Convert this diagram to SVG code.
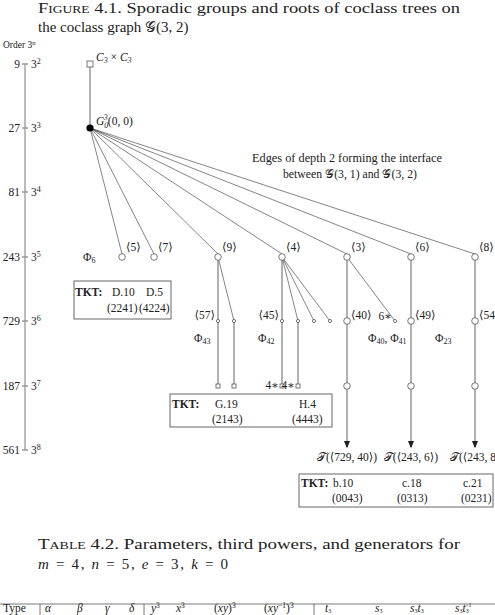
<svg xmlns="http://www.w3.org/2000/svg" width="495" height="615" viewBox="0 0 495 615">
<style>
text{font-family:"Liberation Serif","DejaVu Serif",serif;fill:#222}
.t{font-size:15px}
.s{font-size:11.5px}
.m{font-size:11.5px;font-style:italic}
.b{font-weight:bold}
.axis{stroke:#999;stroke-width:1.3;fill:none}
.v{stroke:#888;stroke-width:1.3;fill:none}
.e{stroke:#333;stroke-width:0.6;fill:none}
.c{fill:#fff;stroke:#555;stroke-width:0.8}
.box{fill:none;stroke:#666;stroke-width:1}
</style>
<defs>
<marker id="ar" viewBox="0 0 6 6" refX="5" refY="3" markerWidth="6" markerHeight="6" orient="auto"><path d="M0,0.5 L6,3 L0,5.5 Z" fill="#222"/></marker>
</defs>
<text class="t" x="38" y="13" textLength="422" lengthAdjust="spacingAndGlyphs">F<tspan font-size="11">IGURE</tspan> 4.1. Sporadic groups and roots of coclass trees on</text>
<text class="t" x="38" y="32">the coclass graph 𝒢(3, 2)</text>

<g id="axis">
<text x="3" y="48" font-size="9.5">Order 3<tspan font-size="6.5" dy="-3.5">n</tspan></text>
<path class="axis" d="M25,64 V450 M22,64 H28 M22,128 H28 M22,192 H28 M22,257 H28 M22,321 H28 M22,386 H28 M22,450 H28"/>
<g class="s" text-anchor="end">
<text x="20" y="68">9</text><text x="20" y="132">27</text><text x="20" y="196">81</text><text x="20" y="261">243</text><text x="20" y="325">729</text><text x="20" y="390">187</text><text x="20" y="454">561</text>
</g>
<g class="s">
<text x="31" y="68">3<tspan font-size="8" dy="-4.5">2</tspan></text>
<text x="31" y="132">3<tspan font-size="8" dy="-4.5">3</tspan></text>
<text x="31" y="196">3<tspan font-size="8" dy="-4.5">4</tspan></text>
<text x="31" y="261">3<tspan font-size="8" dy="-4.5">5</tspan></text>
<text x="31" y="325">3<tspan font-size="8" dy="-4.5">6</tspan></text>
<text x="31" y="390">3<tspan font-size="8" dy="-4.5">7</tspan></text>
<text x="31" y="454">3<tspan font-size="8" dy="-4.5">8</tspan></text>
</g>
</g>

<g id="connectors">
<path class="v" d="M90,67 V128"/>
<path class="e" d="M90,128 L122,254 M90,128 L154,254 M90,128 L218,254 M90,128 L282,254 M90,128 L347,254 M90,128 L411,254 M90,128 L475,254"/>
<path class="v" d="M218,260 V384 M234,321 V384 M282,260 V384 M298,321 V384"/>
<path class="e" d="M218,257 L234,321 M282,257 L298,321 M282,257 L314,321 M282,257 L330,321 M347,257 L395,321"/>
<path class="v" d="M347,260 V447" marker-end="url(#ar)"/>
<path class="v" d="M411,260 V447" marker-end="url(#ar)"/>
<path class="v" d="M475,260 V447" marker-end="url(#ar)"/>
</g>

<g id="n-c3c3"><rect x="87" y="61" width="6" height="6" class="c"/><text class="m" x="96" y="61">C<tspan font-size="8" dy="2">3</tspan><tspan dy="-2" font-style="normal"> × </tspan>C<tspan font-size="8" dy="2">3</tspan></text></g>
<g id="n-root"><circle cx="90" cy="128" r="3.6" fill="#000"/><text class="m" x="96" y="125">G<tspan font-size="8" dy="3">0</tspan><tspan font-size="8" dx="-4.5" dy="-8">3</tspan><tspan font-style="normal" dy="5">(0, 0)</tspan></text></g>

<text id="interface" class="s" text-anchor="middle"><tspan x="347" y="162" textLength="190" lengthAdjust="spacingAndGlyphs">Edges of depth 2 forming the interface</tspan><tspan x="350" y="178" textLength="134" lengthAdjust="spacingAndGlyphs">between 𝒢(3, 1) and 𝒢(3, 2)</tspan></text>

<g id="n5"><circle cx="122" cy="257" r="3.3" class="c"/><text class="s" x="126" y="251">⟨5⟩</text></g>
<g id="n7"><circle cx="154" cy="257" r="3.3" class="c"/><text class="s" x="158" y="251">⟨7⟩</text></g>
<g id="n9"><circle cx="218" cy="257" r="3.3" class="c"/><text class="s" x="222" y="251">⟨9⟩</text></g>
<g id="n4"><circle cx="282" cy="257" r="3.3" class="c"/><text class="s" x="286" y="251">⟨4⟩</text></g>
<g id="n3"><circle cx="347" cy="257" r="3.3" class="c"/><text class="s" x="351" y="251">⟨3⟩</text></g>
<g id="n6"><circle cx="411" cy="257" r="3.3" class="c"/><text class="s" x="415" y="251">⟨6⟩</text></g>
<g id="n8"><circle cx="475" cy="257" r="3.3" class="c"/><text class="s" x="479" y="251">⟨8⟩</text></g>
<text id="phi6" class="s" x="83" y="261">Φ<tspan font-size="8" dy="2">6</tspan></text>

<g id="tkt1"><rect class="box" x="74" y="281" width="97" height="38"/>
<text class="s b" x="75" y="296">TKT:</text><text class="s" x="112" y="296">D.10</text><text class="s" x="146" y="296">D.5</text>
<text class="s" x="107" y="312">(2241)</text><text class="s" x="139" y="312">(4224)</text></g>

<g id="n9-kids">
<circle cx="218" cy="321" r="1.6" class="c"/><circle cx="234" cy="321" r="1.6" class="c"/>
<rect x="216" y="384" width="4" height="4" class="c"/><rect x="232" y="384" width="4" height="4" class="c"/>
<text class="s" x="215" y="319" text-anchor="end">⟨57⟩</text>
<text class="s" x="194" y="342">Φ<tspan font-size="8" dy="2">43</tspan></text>
</g>
<g id="n4-kids">
<circle cx="282" cy="321" r="1.6" class="c"/><circle cx="298" cy="321" r="1.6" class="c"/><circle cx="314" cy="321" r="1.6" class="c"/><circle cx="330" cy="321" r="1.6" class="c"/>
<rect x="280" y="384" width="4" height="4" class="c"/><rect x="296" y="384" width="4" height="4" class="c"/>
<text class="s" x="279" y="319" text-anchor="end">⟨45⟩</text>
<text class="s" x="258" y="342">Φ<tspan font-size="8" dy="2">42</tspan></text>
<text class="s" x="279" y="389" text-anchor="end">4∗</text><text class="s" x="295" y="389" text-anchor="end">4∗</text>
</g>
<g id="n3-kids">
<circle cx="347" cy="321" r="3.3" class="c"/><circle cx="347" cy="386" r="3.3" class="c"/><circle cx="395" cy="321" r="1.6" class="c"/>
<text class="s" x="351" y="319">⟨40⟩</text><text class="s" x="392" y="320" text-anchor="end">6∗</text>
<text class="s" x="368" y="342">Φ<tspan font-size="8" dy="2">40</tspan><tspan dy="-2">, Φ</tspan><tspan font-size="8" dy="2">41</tspan></text>
</g>
<g id="n6-kids">
<circle cx="411" cy="321" r="3.3" class="c"/><circle cx="411" cy="386" r="3.3" class="c"/>
<text class="s" x="415" y="319">⟨49⟩</text>
<text class="s" x="435" y="342">Φ<tspan font-size="8" dy="2">23</tspan></text>
</g>
<g id="n8-kids">
<circle cx="475" cy="321" r="3.3" class="c"/><circle cx="475" cy="386" r="3.3" class="c"/>
<text class="s" x="479" y="319">⟨54</text>
</g>

<g id="tkt2"><rect class="box" x="170" y="394" width="162" height="33"/>
<text class="s b" x="172" y="408">TKT:</text><text class="s" x="215" y="408">G.19</text><text class="s" x="299" y="408">H.4</text>
<text class="s" x="212" y="423">(2143)</text><text class="s" x="292" y="423">(4443)</text></g>

<g id="trees" class="s">
<text x="347" y="461" text-anchor="middle">𝒯(⟨729, 40⟩)</text>
<text x="411" y="461" text-anchor="middle">𝒯(⟨243, 6⟩)</text>
<text x="450" y="461">𝒯(⟨243, 8</text>
</g>

<g id="tkt3"><rect class="box" x="299" y="474" width="194" height="33"/>
<text class="s b" x="301" y="487">TKT:</text><text class="s" x="333" y="487">b.10</text><text class="s" x="402" y="487">c.18</text><text class="s" x="463" y="487">c.21</text>
<text class="s" x="332" y="502">(0043)</text><text class="s" x="397" y="502">(0313)</text><text class="s" x="461" y="502">(0231)</text></g>

<text class="t" x="38" y="549" textLength="422" lengthAdjust="spacingAndGlyphs">T<tspan font-size="11">ABLE</tspan> 4.2. Parameters, third powers, and generators for</text>
<text class="t" x="38" y="569" textLength="190" lengthAdjust="spacing"><tspan font-style="italic">m</tspan> = 4, <tspan font-style="italic">n</tspan> = 5, <tspan font-style="italic">e</tspan> = 3, <tspan font-style="italic">k</tspan> = 0</text>

<g id="table">
<path d="M0,604 H495 M40,604 V615 M144,604 V615 M314,604 V615" stroke="#555" stroke-width="0.8"/>
<text class="s" x="3" y="612">Type</text>
<g class="m"><text x="45" y="612">α</text><text x="77" y="612">β</text><text x="105" y="612">γ</text><text x="129" y="612">δ</text>
<text x="151" y="612">y<tspan font-size="7.5" dy="-4" font-style="normal">3</tspan></text>
<text x="176" y="612">x<tspan font-size="7.5" dy="-4" font-style="normal">3</tspan></text>
<text x="214" y="612"><tspan font-style="normal">(</tspan>xy<tspan font-style="normal">)</tspan><tspan font-size="7.5" dy="-4" font-style="normal">3</tspan></text>
<text x="264" y="612"><tspan font-style="normal">(</tspan>xy<tspan font-size="7.5" dy="-4" font-style="normal">−1</tspan><tspan dy="4" font-style="normal">)</tspan><tspan font-size="7.5" dy="-4" font-style="normal">3</tspan></text>
<text x="325" y="612">t<tspan font-size="6" dy="1" font-style="normal">3</tspan></text>
<text x="375" y="612">s<tspan font-size="6" dy="1" font-style="normal">3</tspan></text>
<text x="410" y="612">s<tspan font-size="6" dy="1" font-style="normal">3</tspan><tspan dy="-1">t</tspan><tspan font-size="6" dy="1" font-style="normal">3</tspan></text>
<text x="455" y="612">s<tspan font-size="6" dy="1" font-style="normal">3</tspan><tspan dy="-1">t</tspan><tspan font-size="6" dy="1" font-style="normal">3</tspan><tspan font-size="6" dx="-3.5" dy="-6" font-style="normal">−1</tspan></text>
</g>
</g>
</svg>
